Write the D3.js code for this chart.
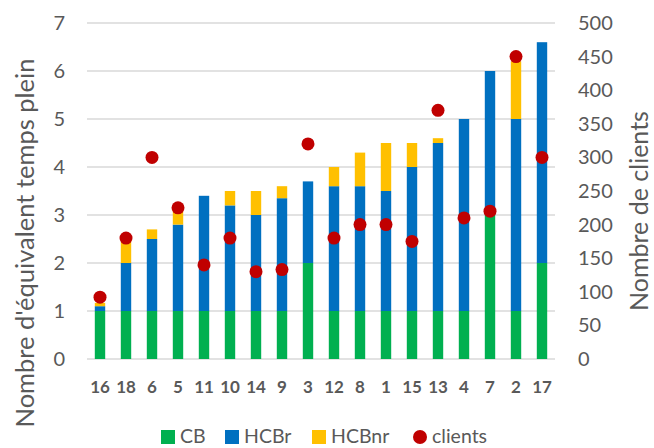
<!DOCTYPE html>
<html>
<head>
<meta charset="utf-8">
<script src="https://cdn.jsdelivr.net/npm/d3@7"></script>
<style>
  body { margin: 0; background: #fff; }
  text { font-family: Lato, "Open Sans", sans-serif; fill: #595959; }
</style>
</head>
<body>
<svg id="chart" width="654" height="448"></svg>
<script>
// Data
const categories = ["16", "18", "6", "5", "11", "10", "14", "9", "3", "12", "8", "1", "15", "13", "4", "7", "2", "17"];
const cb     = [1, 1, 1, 1, 1, 1, 1, 1, 2, 1, 1, 1, 1, 1, 1, 3, 1, 2];
const hcbr   = [0.1, 1, 1.5, 1.8, 2.4, 2.2, 2, 2.35, 1.7, 2.6, 2.6, 2.5, 3, 3.5, 4, 3, 4, 4.6];
const hcbnr  = [0.07, 0.5, 0.2, 0.3, 0, 0.3, 0.5, 0.25, 0, 0.4, 0.7, 1, 0.5, 0.1, 0, 0, 1.2, 0];
const clients = [92, 180, 300, 225, 140, 180, 130, 133, 320, 180, 200, 200, 175, 370, 210, 220, 450, 300];
const leftTicks = [0, 1, 2, 3, 4, 5, 6, 7];
const rightTicks = [0, 50, 100, 150, 200, 250, 300, 350, 400, 450, 500];

const svg = d3.select("#chart");
const margin = {top: 23, right: 99, bottom: 89, left: 87},
    width = 654, height = 448;

const colors = {CB: "#00B050", HCBr: "#0070C0", HCBnr: "#FFC000", clients: "#C00000"};

// Scales
const x = d3.scaleBand()
  .domain(categories)
  .range([margin.left, width - margin.right])
  .paddingInner(0.6)
  .paddingOuter(0.3);

const y = d3.scaleLinear().domain([0, 7]).range([height - margin.bottom, margin.top]);
const y2 = d3.scaleLinear().domain([0, 500]).range([height - margin.bottom, margin.top]);

// Gridlines
svg.append("g")
  .selectAll("line")
  .data(leftTicks)
  .enter().append("line")
  .attr("x1", margin.left)
  .attr("x2", width - margin.right)
  .attr("y1", d => y(d))
  .attr("y2", d => y(d))
  .attr("stroke", "#d9d9d9")
  .attr("stroke-width", 1.5);

// Stacked bars
const rows = categories.map((c, i) => ({cat: c, CB: cb[i], HCBr: hcbr[i], HCBnr: hcbnr[i]}));
const stack = d3.stack().keys(["CB", "HCBr", "HCBnr"])(rows);

svg.append("g")
  .selectAll("g")
  .data(stack)
  .enter().append("g")
  .attr("fill", d => colors[d.key])
  .selectAll("rect")
  .data(d => d)
  .enter().append("rect")
  .attr("x", d => x(d.data.cat))
  .attr("y", d => y(d[1]))
  .attr("width", x.bandwidth())
  .attr("height", d => y(d[0]) - y(d[1]));

// Clients dots
svg.append("g")
  .selectAll("circle")
  .data(clients)
  .enter().append("circle")
  .attr("cx", (d, i) => x(categories[i]) + x.bandwidth() / 2)
  .attr("cy", d => y2(d))
  .attr("r", 6.5)
  .attr("fill", colors.clients);

// Left axis
const leftAxis = svg.append("g")
  .attr("transform", `translate(${margin.left}, 0)`)
  .call(d3.axisLeft(y).tickValues(leftTicks).tickFormat(d3.format("d")).tickSize(0).tickPadding(22));
leftAxis.select(".domain").remove();
leftAxis.selectAll("text").style("font-size", "20px").attr("fill", "#595959");

// Right axis
const rightAxis = svg.append("g")
  .attr("transform", `translate(${width - margin.right}, 0)`)
  .call(d3.axisRight(y2).tickValues(rightTicks).tickSize(0).tickPadding(23));
rightAxis.select(".domain").remove();
rightAxis.selectAll("text").style("font-size", "20px").attr("fill", "#595959");

// Bottom axis
const bottomAxis = svg.append("g")
  .attr("transform", `translate(0, ${height - margin.bottom})`)
  .call(d3.axisBottom(x).tickSize(0).tickPadding(22));
bottomAxis.select(".domain").remove();
bottomAxis.selectAll("text")
  .style("font-size", "17px")
  .style("font-weight", "bold")
  .attr("fill", "#595959");

// Axis titles
svg.append("text")
  .attr("transform", "translate(34, 243) rotate(-90)")
  .attr("text-anchor", "middle")
  .style("font-size", "25.5px")
  .text("Nombre d'équivalent temps plein");

svg.append("text")
  .attr("transform", "translate(648, 211) rotate(-90)")
  .attr("text-anchor", "middle")
  .style("font-size", "25px")
  .text("Nombre de clients");

// Legend
const legendItems = [
  {name: "CB", x: 161, type: "rect"},
  {name: "HCBr", x: 225, type: "rect"},
  {name: "HCBnr", x: 312, type: "rect"},
  {name: "clients", x: 413, type: "circle"}
];
const legend = svg.append("g").attr("transform", "translate(0, 437)");
legendItems.forEach(it => {
  if (it.type === "rect") {
    legend.append("rect")
      .attr("x", it.x).attr("y", -7)
      .attr("width", 14).attr("height", 14)
      .attr("fill", colors[it.name]);
  } else {
    legend.append("circle")
      .attr("cx", it.x + 7).attr("cy", 0)
      .attr("r", 7)
      .attr("fill", colors.clients);
  }
  legend.append("text")
    .attr("x", it.x + 19)
    .attr("y", 6)
    .style("font-size", "19.5px")
    .text(it.name);
});
</script>
</body>
</html>
